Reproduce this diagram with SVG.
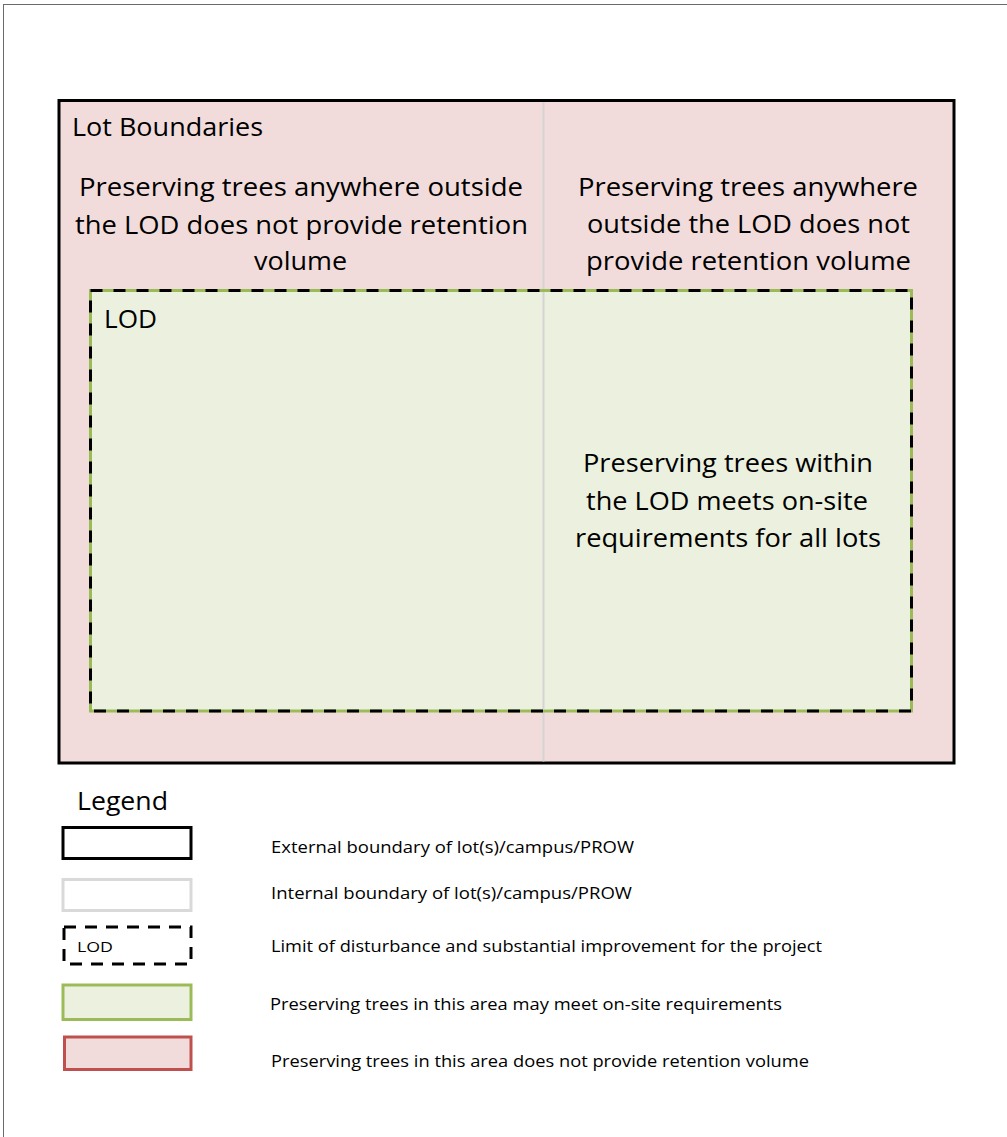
<svg xmlns="http://www.w3.org/2000/svg" width="1007" height="1137" viewBox="0 0 1007 1137">
  <style>
    .t { font-family: "Open Sans", "Noto Sans", "Liberation Sans", sans-serif; fill: #000; }
    .big { font-size: 25px; }
    .lg { font-size: 15.5px; }
    .pink { fill: #f2dcdb; }
    .green { fill: #ebf1de; }
  </style>
  <rect width="1007" height="1137" fill="#ffffff"/>
  <rect id="frame" x="3.5" y="4.5" width="1020" height="1150" fill="none" stroke="#6b6b6b" stroke-width="1"/>

  <g id="lot-boundaries">
    <rect class="pink" x="59" y="100.5" width="895" height="662.5" stroke="#000" stroke-width="3"/>
    <line id="internal-boundary" x1="543.5" y1="102" x2="543.5" y2="761.5" stroke="#d4d4d4" stroke-width="2"/>
    <text class="t big" x="72" y="136" textLength="191" lengthAdjust="spacingAndGlyphs">Lot Boundaries</text>
  </g>

  <g id="lod">
    <rect class="green" x="90.5" y="290.5" width="821" height="420.5" stroke="#9bbb59" stroke-width="3"/>
    <line x1="543.5" y1="292" x2="543.5" y2="709.5" stroke="#d4d4d4" stroke-width="2"/>
    <rect x="90.5" y="290.5" width="821" height="420.5" fill="none" stroke="#000" stroke-width="3" stroke-dasharray="12 11"/>
    <text class="t big" x="104" y="328" textLength="53" lengthAdjust="spacingAndGlyphs">LOD</text>
  </g>

  <g id="left-outside-text">
    <text class="t big" x="79" y="196" textLength="444" lengthAdjust="spacingAndGlyphs">Preserving trees anywhere outside</text>
    <text class="t big" x="75" y="234" textLength="453" lengthAdjust="spacingAndGlyphs">the LOD does not provide retention</text>
    <text class="t big" x="254" y="270" textLength="93" lengthAdjust="spacingAndGlyphs">volume</text>
  </g>

  <g id="right-outside-text">
    <text class="t big" x="578" y="196" textLength="340" lengthAdjust="spacingAndGlyphs">Preserving trees anywhere</text>
    <text class="t big" x="587" y="233" textLength="323" lengthAdjust="spacingAndGlyphs">outside the LOD does not</text>
    <text class="t big" x="586" y="270" textLength="325" lengthAdjust="spacingAndGlyphs">provide retention volume</text>
  </g>

  <g id="inside-lod-text">
    <text class="t big" x="583" y="472" textLength="290" lengthAdjust="spacingAndGlyphs">Preserving trees within</text>
    <text class="t big" x="586" y="510" textLength="282" lengthAdjust="spacingAndGlyphs">the LOD meets on-site</text>
    <text class="t big" x="575" y="547" textLength="306" lengthAdjust="spacingAndGlyphs">requirements for all lots</text>
  </g>

  <g id="legend">
    <text class="t big" x="77" y="810" textLength="91" lengthAdjust="spacingAndGlyphs">Legend</text>
    <g id="legend-external">
      <rect x="63" y="827.5" width="128" height="31" fill="#fff" stroke="#000" stroke-width="3"/>
      <text class="t lg" x="271" y="853" textLength="363" lengthAdjust="spacingAndGlyphs">External boundary of lot(s)/campus/PROW</text>
    </g>
    <g id="legend-internal">
      <rect x="63" y="879.5" width="128" height="31" fill="#fff" stroke="#d9d9d9" stroke-width="3"/>
      <text class="t lg" x="271" y="898.5" textLength="361" lengthAdjust="spacingAndGlyphs">Internal boundary of lot(s)/campus/PROW</text>
    </g>
    <g id="legend-lod">
      <rect x="64" y="927" width="127" height="37" fill="#fff" stroke="#000" stroke-width="3" stroke-dasharray="12 9"/>
      <text class="t" x="77" y="952" font-size="15" textLength="36" lengthAdjust="spacingAndGlyphs">LOD</text>
      <text class="t lg" x="271" y="951.5" textLength="551" lengthAdjust="spacingAndGlyphs">Limit of disturbance and substantial improvement for the project</text>
    </g>
    <g id="legend-green">
      <rect class="green" x="63" y="985" width="128" height="34.5" stroke="#9bbb59" stroke-width="3"/>
      <text class="t lg" x="270" y="1010" textLength="512" lengthAdjust="spacingAndGlyphs">Preserving trees in this area may meet on-site requirements</text>
    </g>
    <g id="legend-red">
      <rect class="pink" x="64.5" y="1037" width="126.5" height="32.5" stroke="#c0504d" stroke-width="3"/>
      <text class="t lg" x="271" y="1066.5" textLength="538" lengthAdjust="spacingAndGlyphs">Preserving trees in this area does not provide retention volume</text>
    </g>
  </g>
</svg>
